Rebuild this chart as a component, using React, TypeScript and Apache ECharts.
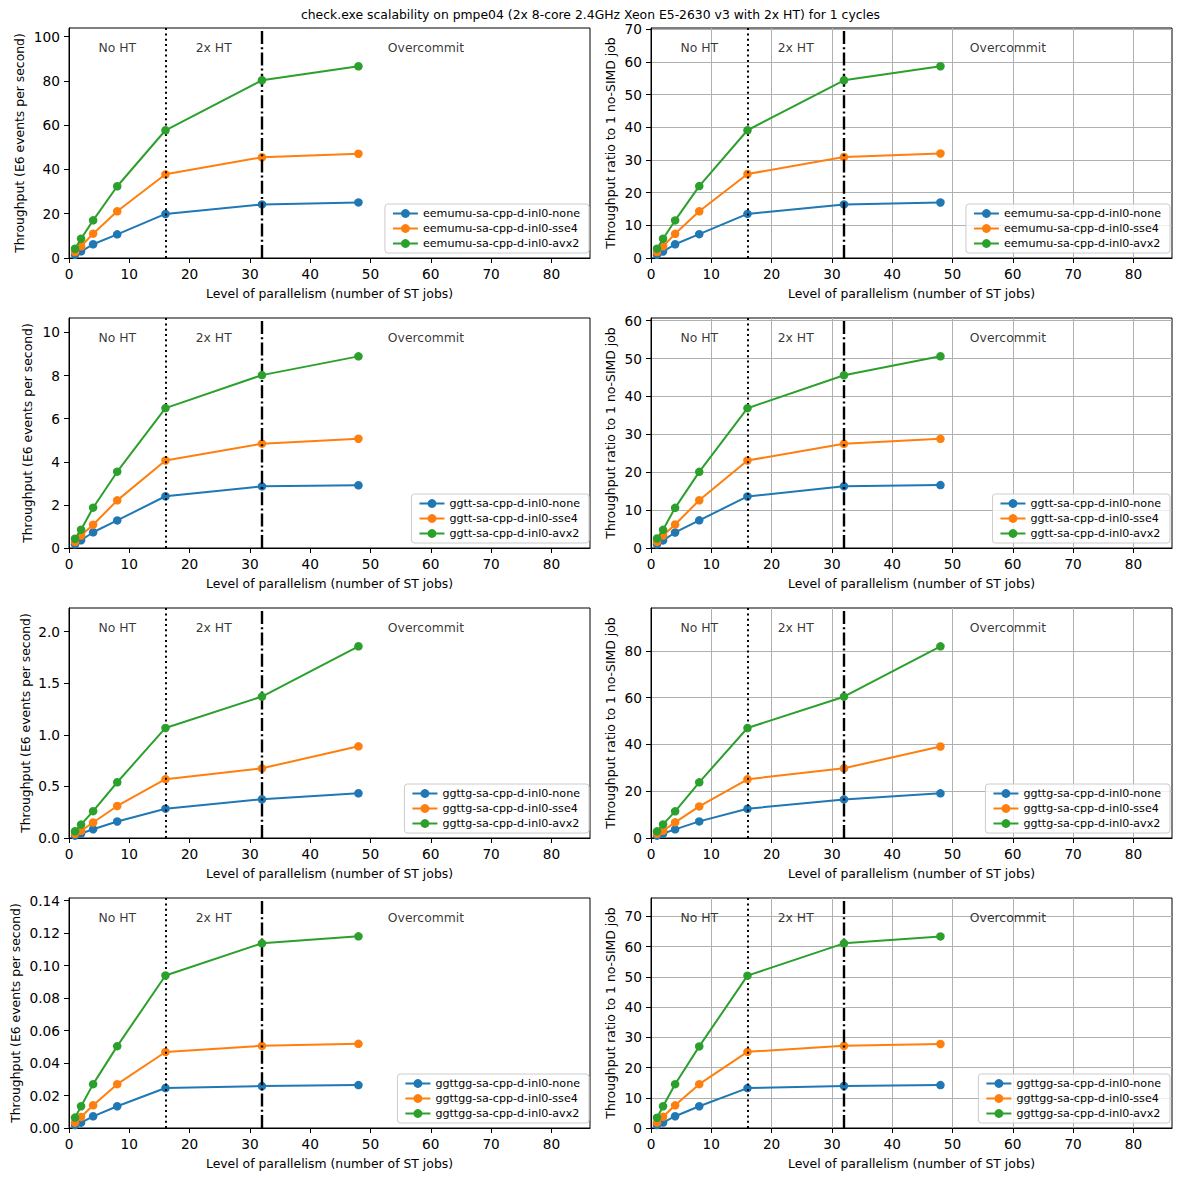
import React, { useEffect, useRef } from "react";
import * as echarts from "echarts";

const TITLE =
  "check.exe scalability on pmpe04 (2x 8-core 2.4GHz Xeon E5-2630 v3 with 2x HT) for 1 cycles";
const X_LABEL = "Level of parallelism (number of ST jobs)";
const Y_LABEL_THR = "Throughput (E6 events per second)";
const Y_LABEL_RATIO = "Throughput ratio to 1 no-SIMD job";

const jobs = [1, 2, 4, 8, 16, 32, 48];
const xTicks = [0, 10, 20, 30, 40, 50, 60, 70, 80];
const processes = ["eemumu", "ggtt", "ggttg", "ggttgg"];
const simdModes = ["none", "sse4", "avx2"];
const colors = ["#1f77b4", "#ff7f0e", "#2ca02c"];
const regionNames = ["No HT", "2x HT", "Overcommit"];
const regionCenters = [8, 24, 59.2];

// throughput (E6 events per second), per SIMD mode: none, sse4, avx2
const eemumuThroughput = [
  [1.47, 3.0, 6.2, 10.7, 19.9, 24.2, 25.1],
  [2.7, 5.3, 11.0, 21.1, 37.8, 45.5, 47.1],
  [4.2, 8.7, 17.0, 32.4, 57.7, 80.3, 86.6],
];
const ggttThroughput = [
  [0.175, 0.36, 0.73, 1.28, 2.4, 2.86, 2.91],
  [0.28, 0.58, 1.08, 2.21, 4.06, 4.84, 5.07],
  [0.43, 0.85, 1.87, 3.54, 6.49, 8.02, 8.89],
];
const ggttgThroughput = [
  [0.023, 0.043, 0.085, 0.16, 0.284, 0.375, 0.433],
  [0.04, 0.07, 0.15, 0.31, 0.57, 0.675, 0.888],
  [0.065, 0.13, 0.26, 0.54, 1.066, 1.37, 1.857],
];
const ggttggThroughput = [
  [0.0018, 0.0033, 0.0072, 0.0134, 0.0246, 0.0258, 0.0264],
  [0.0033, 0.0068, 0.014, 0.027, 0.0468, 0.0506, 0.0518],
  [0.0064, 0.0134, 0.027, 0.0504, 0.0939, 0.1137, 0.118],
];

// throughput ratio to 1 no-SIMD job
const eemumuRatio = [
  [1.0, 2.0, 4.2, 7.3, 13.5, 16.4, 17.0],
  [1.8, 3.6, 7.4, 14.3, 25.7, 30.9, 32.0],
  [2.85, 5.9, 11.5, 22.0, 39.1, 54.4, 58.7],
];
const ggttRatio = [
  [1.0, 2.0, 4.1, 7.3, 13.6, 16.3, 16.6],
  [1.6, 3.3, 6.2, 12.6, 23.1, 27.5, 28.8],
  [2.5, 4.8, 10.6, 20.1, 36.9, 45.6, 50.6],
];
const ggttgRatio = [
  [1.0, 1.9, 3.7, 7.1, 12.5, 16.5, 19.1],
  [1.8, 3.1, 6.7, 13.5, 25.1, 29.8, 39.1],
  [2.85, 5.8, 11.4, 23.8, 47.0, 60.4, 81.9],
];
const ggttggRatio = [
  [1.0, 1.8, 3.9, 7.2, 13.2, 13.9, 14.2],
  [1.8, 3.7, 7.5, 14.5, 25.2, 27.2, 27.8],
  [3.4, 7.2, 14.5, 27.0, 50.4, 61.1, 63.4],
];

const throughputSets = [eemumuThroughput, ggttThroughput, ggttgThroughput, ggttggThroughput];
const ratioSets = [eemumuRatio, ggttRatio, ggttgRatio, ggttggRatio];

// axis limits and tick labels
const thrMax = [103.9, 10.67, 2.228, 0.1416];
const ratioMax = [70.4, 60.7, 98.3, 76.1];
const thrTicks = [
  [0, 20, 40, 60, 80, 100],
  [0, 2, 4, 6, 8, 10],
  [0, 0.5, 1.0, 1.5, 2.0],
  [0, 0.02, 0.04, 0.06, 0.08, 0.1, 0.12, 0.14],
];
const ratioTicks = [
  [0, 10, 20, 30, 40, 50, 60, 70],
  [0, 10, 20, 30, 40, 50, 60],
  [0, 20, 40, 60, 80],
  [0, 10, 20, 30, 40, 50, 60, 70],
];
const thrDecimals = [0, 0, 1, 2];

const FONT = "DejaVu Sans";
const W = 1181;
const H = 1180;
const ROW_TOPS = [28, 318, 608, 898];
const PLOT_H = 230;
const COL_LEFTS = [69, 651];
const PLOT_W = 521;
const X_MAX = 86.4;
const THR_NAME_GAP = [44, 36, 38, 48];
const RATIO_NAME_GAP = 35;
const LABEL_SIZE = 12.4;
const TICK_SIZE = 13.7;

function buildOption() {
  const grids: any[] = [];
  const xAxes: any[] = [];
  const yAxes: any[] = [];
  const series: any[] = [];
  const legends: any[] = [];

  for (let r = 0; r < 4; r++) {
    for (let c = 0; c < 2; c++) {
      const idx = grids.length;
      const isRatio = c === 1;
      const top = ROW_TOPS[r];
      const left = COL_LEFTS[c];
      const ymax = isRatio ? ratioMax[r] : thrMax[r];
      const yTicks = isRatio ? ratioTicks[r] : thrTicks[r];
      const dec = isRatio ? 0 : thrDecimals[r];
      const sets = isRatio ? ratioSets[r] : throughputSets[r];
      const names = simdModes.map((m) => `${processes[r]}-sa-cpp-d-inl0-${m}`);

      grids.push({
        left,
        top,
        width: PLOT_W,
        height: PLOT_H,
        show: true,
        borderColor: "#000",
        borderWidth: 1,
        backgroundColor: "transparent",
      });

      const gridLine = {
        show: isRatio,
        lineStyle: { color: "#b0b0b0", width: 1 },
      };

      xAxes.push({
        type: "value",
        gridIndex: idx,
        min: 0,
        max: X_MAX,
        interval: 10,
        name: X_LABEL,
        nameLocation: "middle",
        nameGap: 29,
        nameTextStyle: { fontFamily: FONT, fontSize: LABEL_SIZE, color: "#000" },
        axisLine: { show: true, onZero: false, lineStyle: { color: "#000", width: 1 } },
        axisTick: { show: true, length: 5, lineStyle: { color: "#000" }, customValues: xTicks },
        axisLabel: {
          fontFamily: FONT,
          fontSize: TICK_SIZE,
          color: "#000",
          margin: 9,
          customValues: xTicks,
        },
        splitLine: gridLine,
      });

      yAxes.push({
        type: "value",
        gridIndex: idx,
        min: 0,
        max: ymax,
        interval: yTicks[1],
        name: isRatio ? Y_LABEL_RATIO : Y_LABEL_THR,
        nameLocation: "middle",
        nameRotate: 90,
        nameGap: isRatio ? RATIO_NAME_GAP : THR_NAME_GAP[r],
        nameTextStyle: { fontFamily: FONT, fontSize: LABEL_SIZE, color: "#000" },
        axisLine: { show: true, onZero: false, lineStyle: { color: "#000", width: 1 } },
        axisTick: { show: true, length: 5, lineStyle: { color: "#000" }, customValues: yTicks },
        axisLabel: {
          fontFamily: FONT,
          fontSize: TICK_SIZE,
          color: "#000",
          margin: 9,
          customValues: yTicks,
          formatter: (v: number) => v.toFixed(dec),
        },
        splitLine: gridLine,
      });

      for (let s = 0; s < 3; s++) {
        series.push({
          type: "line",
          name: names[s],
          xAxisIndex: idx,
          yAxisIndex: idx,
          data: jobs.map((j, k) => [j, sets[s][k]]),
          symbol: "circle",
          symbolSize: 8.5,
          showAllSymbol: true,
          lineStyle: { color: colors[s], width: 2 },
          itemStyle: { color: colors[s] },
          z: 3 + s,
        });
      }

      series.push({
        type: "scatter",
        name: "regions-" + idx,
        xAxisIndex: idx,
        yAxisIndex: idx,
        symbolSize: 1,
        itemStyle: { color: "rgba(0,0,0,0)" },
        silent: true,
        z: 10,
        data: regionNames.map((n, k) => ({ name: n, value: [regionCenters[k], ymax * 0.917] })),
        label: {
          show: true,
          position: "inside",
          formatter: "{b}",
          fontFamily: FONT,
          fontSize: LABEL_SIZE,
          color: "#000",
        },
        markLine: {
          silent: true,
          symbol: "none",
          label: { show: false },
          animation: false,
          data: [
            { xAxis: 16, lineStyle: { color: "#000", type: [2, 3.3], width: 2 } },
            { xAxis: 32, lineStyle: { color: "#000", type: [13, 3.2, 2, 3.2], width: 2.4 } },
          ],
        },
      });

      legends.push({
        show: true,
        orient: "vertical",
        right: c === 0 ? W - 589 : W - 1170,
        bottom: H - (top + PLOT_H - 5),
        data: names,
        itemWidth: 25,
        itemHeight: 11,
        itemGap: 4,
        padding: [4, 9, 4, 7],
        borderColor: "#cccccc",
        borderWidth: 1,
        borderRadius: 3,
        backgroundColor: "rgba(255,255,255,0.8)",
        textStyle: { fontFamily: FONT, fontSize: 11.1, color: "#000" },
        selectedMode: false,
      });
    }
  }

  return {
    animation: false,
    backgroundColor: "#fff",
    title: {
      text: TITLE,
      left: "center",
      top: 3,
      textStyle: { fontFamily: FONT, fontSize: LABEL_SIZE, fontWeight: "normal", color: "#000" },
    },
    grid: grids,
    xAxis: xAxes,
    yAxis: yAxes,
    legend: legends,
    series,
  };
}

export default function App() {
  const ref = useRef<HTMLDivElement>(null);
  useEffect(() => {
    if (!ref.current) return;
    const chart = echarts.init(ref.current, undefined, { renderer: "svg" });
    chart.setOption(buildOption() as any);
    return () => chart.dispose();
  }, []);
  return (
    <div
      ref={ref}
      style={{ position: "absolute", left: 0, top: 0, width: W, height: H }}
    />
  );
}
